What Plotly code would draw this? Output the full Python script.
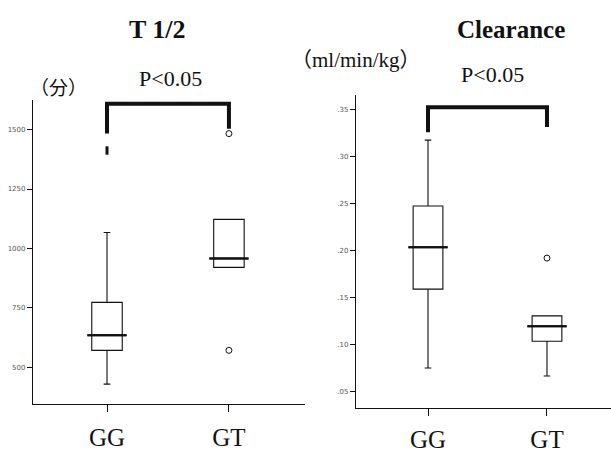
import plotly.graph_objects as go

# Genotype groups
groups = ["GG", "GT"]

# T 1/2 (min): box summaries per genotype
t_q1 = [571, 920]
t_median = [635, 958]
t_q3 = [773, 1122]
t_lower = [429, 920]
t_upper = [1067, 1122]
# T 1/2 outliers
t_out_grp = ["GG", "GT", "GT"]
t_out_val = [1412, 1483, 571]
t_out_sym = ["line-ns", "circle-open", "circle-open"]

# Clearance (ml/min/kg): box summaries per genotype
c_q1 = [0.1585, 0.103]
c_median = [0.203, 0.119]
c_q3 = [0.247, 0.130]
c_lower = [0.0745, 0.066]
c_upper = [0.317, 0.130]
# Clearance outliers
c_out_grp = ["GT"]
c_out_val = [0.1915]

# Significance brackets: [top, left leg end, right leg end]
t_bracket = [1609, 1483, 1504]
c_bracket = [0.352, 0.3255, 0.331]

# Tick labels
t_ticks = [500, 750, 1000, 1250, 1500]
c_ticks = [0.05, 0.10, 0.15, 0.20, 0.25, 0.30, 0.35]
c_ticktext = [".05", ".10", ".15", ".20", ".25", ".30", ".35"]

SERIF = "Times New Roman, Liberation Serif, DejaVu Serif, serif"
CJK = "Times New Roman, Liberation Serif, Noto Sans CJK JP"
BLACK = "#111111"

fig = go.Figure()


def add_panel(xa, ya, q1, med, q3, lo, hi, out_grp, out_val, out_sym, bracket):
    fig.add_trace(go.Box(
        x=groups, q1=q1, median=med, q3=q3, lowerfence=lo, upperfence=hi,
        xaxis=xa, yaxis=ya, width=0.25, whiskerwidth=0.22,
        fillcolor="rgba(0,0,0,0)", line=dict(color=BLACK, width=1.1),
        boxpoints=False, showlegend=False, hoverinfo="skip",
    ))
    # heavier median bars
    for g, m in zip(groups, med):
        fig.add_trace(go.Scatter(
            x=[g, g], y=[m, m], xaxis=xa, yaxis=ya, mode="markers",
            marker=dict(symbol="line-ew", size=28, line=dict(color=BLACK, width=2)),
            showlegend=False, hoverinfo="skip",
        ))
    fig.add_trace(go.Scatter(
        x=out_grp, y=out_val, xaxis=xa, yaxis=ya, mode="markers",
        marker=dict(symbol=out_sym, size=6, color=BLACK,
                    line=dict(color=BLACK, width=[3 if s == "line-ns" else 1 for s in out_sym])),
        showlegend=False, hoverinfo="skip",
    ))
    fig.add_trace(go.Scatter(
        x=[groups[0], groups[0], groups[1], groups[1]],
        y=[bracket[1], bracket[0], bracket[0], bracket[2]],
        xaxis=xa, yaxis=ya, mode="lines",
        line=dict(color=BLACK, width=4), showlegend=False, hoverinfo="skip",
    ))


add_panel("x", "y", t_q1, t_median, t_q3, t_lower, t_upper,
          t_out_grp, t_out_val, t_out_sym, t_bracket)
add_panel("x2", "y2", c_q1, c_median, c_q3, c_lower, c_upper,
          c_out_grp, c_out_val, ["circle-open"], c_bracket)

axis_common = dict(showline=True, linecolor=BLACK, linewidth=1.2, showgrid=False,
                   zeroline=False, ticks="outside", tickcolor=BLACK, automargin=False)

fig.update_layout(
    width=611, height=454, margin=dict(l=0, r=0, t=0, b=0),
    paper_bgcolor="white", plot_bgcolor="white",
    font=dict(family=SERIF, color=BLACK),
    xaxis=dict(domain=[0.054, 0.499], type="category", range=[-0.607, 1.623],
               ticklen=7, tickwidth=1, anchor="y", ticklabelstandoff=4,
               tickfont=dict(size=25, family=SERIF), **axis_common),
    yaxis=dict(domain=[0.110, 0.780], range=[345, 1625], anchor="x",
               tickvals=t_ticks, ticklen=5, tickwidth=1,
               tickfont=dict(size=7, family="DejaVu Sans", color="#555"), **axis_common),
    xaxis2=dict(domain=[0.5827, 1.0], type="category", range=[-0.605, 1.538],
                ticklen=7, tickwidth=1, anchor="y2", ticklabelstandoff=2,
                tickfont=dict(size=25, family=SERIF), **axis_common),
    yaxis2=dict(domain=[0.1013, 0.7907], range=[0.032, 0.365], anchor="x2",
                tickvals=c_ticks, ticktext=c_ticktext, ticklen=5, tickwidth=1,
                tickfont=dict(size=7, family="DejaVu Sans", color="#555"), **axis_common),
)

# Titles and labels placed in paper coordinates
labels = [
    ("T 1/2", 0.257, 0.934, 26, SERIF, "bold"),
    ("Clearance", 0.836, 0.934, 25, SERIF, "bold"),
    ("（分）", 0.095, 0.806, 19, CJK, "normal"),
    ("（ml/min/kg）", 0.582, 0.868, 21, CJK, "normal"),
    ("P<0.05", 0.279, 0.828, 22, SERIF, "normal"),
    ("P<0.05", 0.806, 0.835, 22, SERIF, "normal"),
]
for text, x, y, size, fam, weight in labels:
    fig.add_annotation(text=text, x=x, y=y, xref="paper", yref="paper",
                       xanchor="center", yanchor="middle", showarrow=False,
                       font=dict(size=size, family=fam, weight=weight))

fig.write_html("out.html")
